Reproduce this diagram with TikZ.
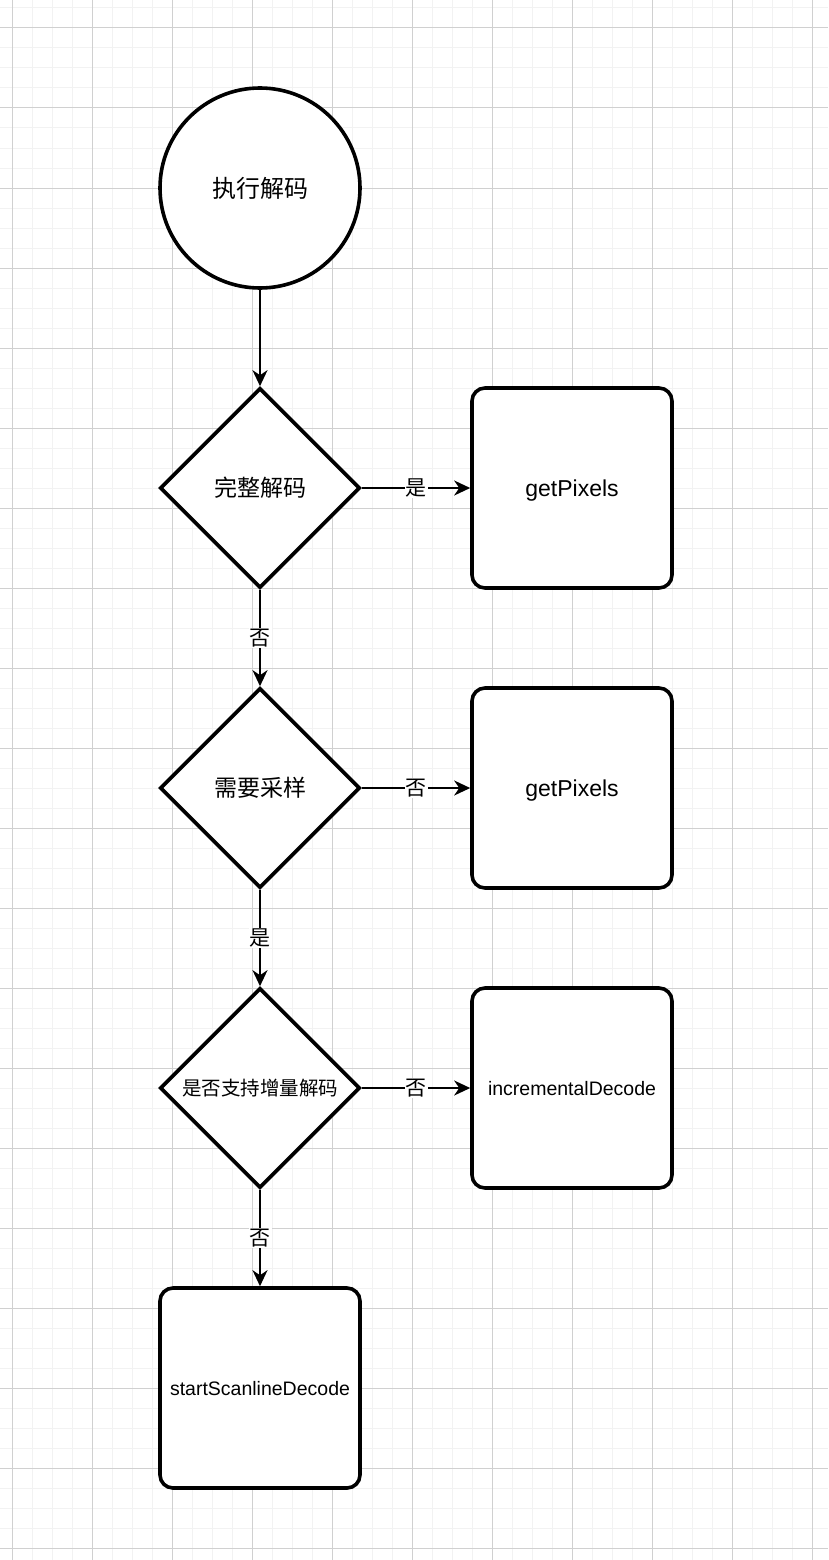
\documentclass[tikz,border=0pt]{standalone}
\usepackage{fontspec}
\setmainfont{Liberation Sans}
\newfontfamily\cjk{Noto Sans CJK SC}
\usetikzlibrary{shapes.geometric,arrows.meta}
\definecolor{gridmajor}{RGB}{208,208,208}
\definecolor{gridminor}{RGB}{242,242,242}
\tikzset{
  shapeline/.style={draw=black,line width=3.6pt,fill=white},
  startnode/.style={shapeline,circle,minimum size=200pt,inner sep=0pt,font=\cjk\fontsize{24}{28}\selectfont},
  decnode/.style={shapeline,diamond,minimum width=200pt,minimum height=200pt,aspect=1,inner sep=0pt,font=\cjk\fontsize{23}{27}\selectfont},
  procnode/.style={shapeline,rectangle,rounded corners=13pt,minimum width=200pt,minimum height=200pt,inner sep=0pt,text depth=0pt,font=\fontsize{20}{24}\selectfont},
  conn/.style={draw=black,line width=2pt,-{Stealth[length=16pt,width=15pt,inset=5pt]}},
  lbl/.style={fill=white,inner sep=1pt,font=\cjk\fontsize{21}{25}\selectfont}
}
\begin{document}
\begin{tikzpicture}[x=1pt,y=-1pt]
\useasboundingbox (0,0) rectangle (828,1560);
\fill[white] (0,0) rectangle (828,1560);
\foreach \x in {12,32,...,828} \draw[gridminor,line width=1pt] (\x,0) -- (\x,1560);
\foreach \y in {8,28,...,1560} \draw[gridminor,line width=1pt] (0,\y) -- (828,\y);
\foreach \x in {12,92,...,828} \draw[gridmajor,line width=1pt] (\x,0) -- (\x,1560);
\foreach \y in {28,108,...,1560} \draw[gridmajor,line width=1pt] (0,\y) -- (828,\y);

\node[startnode] (start) at (260,188) {执行解码};
\node[decnode] (d1) at (260,488) {完整解码};
\node[decnode] (d2) at (260,788) {需要采样};
\node[decnode,font=\cjk\fontsize{19.5}{23}\selectfont] (d3) at (260,1088) {是否支持增量解码};
\node[procnode,font=\fontsize{23}{27}\selectfont] (p1) at (572,488) {getPixels};
\node[procnode,font=\fontsize{23}{27}\selectfont] (p2) at (572,788) {getPixels};
\node[procnode,font=\fontsize{19.5}{23}\selectfont] (p3) at (572,1088) {incrementalDecode};
\node[procnode,font=\fontsize{19.5}{23}\selectfont] (p4) at (260,1388) {startScanlineDecode};

\draw[conn] (start) -- (d1);
\draw[conn] (d1) -- node[lbl] {是} (p1);
\draw[conn] (d1) -- node[lbl] {否} (d2);
\draw[conn] (d2) -- node[lbl] {否} (p2);
\draw[conn] (d2) -- node[lbl] {是} (d3);
\draw[conn] (d3) -- node[lbl] {否} (p3);
\draw[conn] (d3) -- node[lbl] {否} (p4);
\end{tikzpicture}
\end{document}
